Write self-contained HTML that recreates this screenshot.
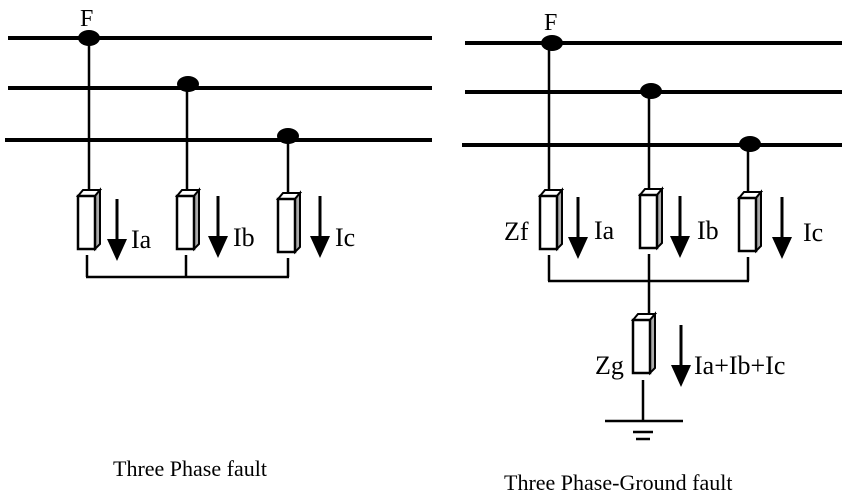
<!DOCTYPE html>
<html><head><style>body{margin:0;background:#fff}svg{display:block}text{font-family:"Liberation Serif",serif;fill:#000}</style></head><body>
<svg width="850" height="497" viewBox="0 0 850 497" xmlns="http://www.w3.org/2000/svg">
<defs>
<g id="r">
<polygon points="0,7 5,1 22,1 17,7" fill="#fff" stroke="#000" stroke-width="2"/>
<polygon points="17,7 22,1 22,55 17,60" fill="#aaa" stroke="#000" stroke-width="2"/>
<rect x="0" y="7" width="17" height="53" fill="#fff" stroke="#000" stroke-width="2.5"/>
</g>
<g id="a">
<line x1="0" y1="0" x2="0" y2="44" stroke="#000" stroke-width="3"/>
<polygon points="-10,40 10,40 0,62" fill="#000"/>
</g>
</defs>
<g stroke="#000" fill="none">
<g stroke-width="4">
<line x1="8" y1="38" x2="432" y2="38"/>
<line x1="8" y1="88" x2="432" y2="88"/>
<line x1="5" y1="140" x2="432" y2="140"/>
<line x1="465" y1="43" x2="842" y2="43"/>
<line x1="465" y1="92" x2="842" y2="92"/>
<line x1="462" y1="145" x2="842" y2="145"/>
</g>
<g stroke-width="2.5">
<line x1="89" y1="38" x2="89" y2="192"/>
<line x1="187" y1="83" x2="187" y2="192"/>
<line x1="288" y1="136" x2="288" y2="195"/>
<line x1="87" y1="255" x2="87" y2="277"/><line x1="186" y1="255" x2="186" y2="277"/><line x1="288" y1="258" x2="288" y2="277"/>
<line x1="86" y1="277" x2="289" y2="277"/>
<line x1="549" y1="43" x2="549" y2="192"/>
<line x1="649" y1="91" x2="649" y2="190"/>
<line x1="748" y1="144" x2="748" y2="194"/>
<line x1="549" y1="255" x2="549" y2="281"/><line x1="649" y1="254" x2="649" y2="313"/><line x1="748" y1="257" x2="748" y2="281"/>
<line x1="548" y1="281" x2="749" y2="281"/>
<line x1="643" y1="380" x2="643" y2="421"/>
<line x1="605" y1="421" x2="683" y2="421"/>
<line x1="633" y1="432" x2="653" y2="432"/>
<line x1="636" y1="439" x2="650" y2="439"/>
</g>
</g>
<g fill="#000">
<ellipse cx="89" cy="38" rx="11" ry="8"/>
<ellipse cx="188" cy="84" rx="11" ry="8"/>
<ellipse cx="288" cy="136" rx="11" ry="8"/>
<ellipse cx="552" cy="43" rx="11" ry="8"/>
<ellipse cx="651" cy="91" rx="11" ry="8"/>
<ellipse cx="750" cy="144" rx="11" ry="8"/>
</g>
<use href="#r" x="78" y="189"/>
<use href="#r" x="177" y="189"/>
<use href="#r" x="278" y="192"/>
<use href="#r" x="540" y="189"/>
<use href="#r" x="640" y="188"/>
<use href="#r" x="739" y="191"/>
<use href="#r" x="633" y="313"/>
<use href="#a" x="117" y="199"/>
<use href="#a" x="218" y="196"/>
<use href="#a" x="320" y="196"/>
<use href="#a" x="578" y="197"/>
<use href="#a" x="680" y="196"/>
<use href="#a" x="782" y="197"/>
<use href="#a" x="681" y="325"/>
<g font-size="26">
<text x="80" y="26" font-size="24">F</text>
<text x="131" y="248">Ia</text>
<text x="233" y="246">Ib</text>
<text x="335" y="246">Ic</text>
<text x="544" y="30" font-size="24">F</text>
<text x="504" y="240">Zf</text>
<text x="594" y="239">Ia</text>
<text x="697" y="239">Ib</text>
<text x="803" y="241">Ic</text>
<text x="595" y="374">Zg</text>
<text x="694" y="374">Ia+Ib+Ic</text>
<text x="113" y="476" font-size="22">Three Phase fault</text>
<text x="504" y="490" font-size="22">Three Phase-Ground fault</text>
</g>
</svg>
</body></html>
